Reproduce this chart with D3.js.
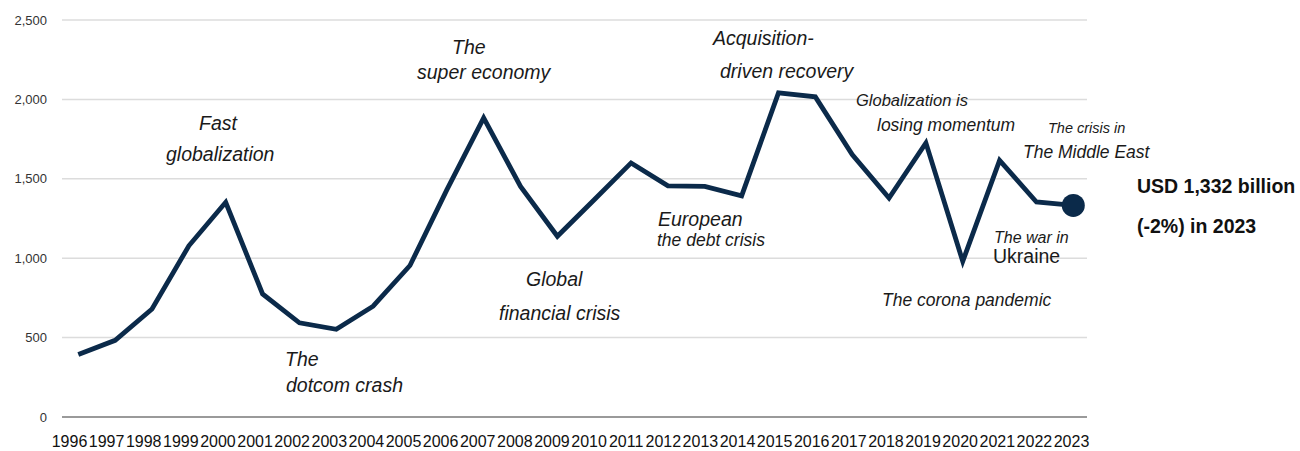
<!DOCTYPE html>
<html>
<head>
<meta charset="utf-8">
<script src="https://cdn.jsdelivr.net/npm/d3@7"></script>
<style>
  html, body { margin: 0; padding: 0; background: #fff; }
  svg { display: block; font-family: "Liberation Sans", Arial, sans-serif; }
</style>
</head>
<body>
<svg id="chart" width="1300" height="451"></svg>
<script>
// Global FDI flows, USD billion
const years = [1996, 1997, 1998, 1999, 2000, 2001, 2002, 2003, 2004, 2005, 2006, 2007, 2008, 2009,
               2010, 2011, 2012, 2013, 2014, 2015, 2016, 2017, 2018, 2019, 2020, 2021, 2022, 2023];
const flows = [393, 483, 680, 1078, 1352, 775, 593, 552, 698, 954, 1430, 1884, 1452, 1138,
               1368, 1600, 1456, 1452, 1393, 2041, 2016, 1652, 1379, 1726, 980, 1616, 1354, 1332];
const yTicks = [0, 500, 1000, 1500, 2000, 2500];

// Period captions
const notes = [
  { text: "Fast", x: 199, y: 130, size: 19.5 },
  { text: "globalization", x: 166, y: 161, size: 19.5 },
  { text: "The", x: 285, y: 366, size: 19.5 },
  { text: "dotcom crash", x: 286, y: 392, size: 19.5 },
  { text: "The", x: 452, y: 54, size: 19.5 },
  { text: "super economy", x: 417, y: 79, size: 19.5 },
  { text: "Acquisition-", x: 713, y: 45, size: 19.5 },
  { text: "driven recovery", x: 720, y: 78, size: 19.5 },
  { text: "Global", x: 526, y: 286, size: 19.5 },
  { text: "financial crisis", x: 499, y: 320, size: 19.5 },
  { text: "European", x: 658, y: 226, size: 19.5 },
  { text: "the debt crisis", x: 657, y: 246, size: 17.5 },
  { text: "Globalization is", x: 856, y: 106, size: 16.5 },
  { text: "losing momentum", x: 877, y: 131, size: 17.5 },
  { text: "The crisis in", x: 1048, y: 133, size: 14.5 },
  { text: "The Middle East", x: 1023, y: 158, size: 17.5 },
  { text: "The war in", x: 994, y: 243, size: 16 },
  { text: "Ukraine", x: 993, y: 263, size: 19.5, upright: true },
  { text: "The corona pandemic", x: 882, y: 306, size: 17.5 }
];
const callout = ["USD 1,332 billion", "(-2%) in 2023"];

const svg = d3.select("#chart");
const navy = "#0b2a4a";

const x = d3.scalePoint().domain(years).range([78.3, 1073.3]);
const xLabel = d3.scalePoint().domain(years).range([69, 1071]);
const y = d3.scaleLinear().domain([0, 2500]).range([417, 20]);

// Horizontal gridlines
svg.append("g").selectAll("line")
  .data(yTicks)
  .join("line")
  .attr("x1", 62).attr("x2", 1087)
  .attr("y1", d => y(d)).attr("y2", d => y(d))
  .attr("stroke", d => d === 0 ? "#9a9a9a" : "#dcdcdc")
  .attr("stroke-width", d => d === 0 ? 2 : 1.5);

// Y axis labels
const yAxis = svg.append("g")
  .attr("transform", "translate(47,0)")
  .call(d3.axisLeft(y).tickValues(yTicks).tickSize(0).tickPadding(0).tickFormat(d3.format(",")));
yAxis.select(".domain").remove();
yAxis.selectAll("text").attr("font-size", 13).attr("fill", "#333").attr("font-family", "Liberation Sans, Arial, sans-serif");

// X axis labels
const xAxis = svg.append("g")
  .attr("transform", "translate(0,436)")
  .call(d3.axisBottom(xLabel).tickSize(0).tickPadding(0));
xAxis.select(".domain").remove();
xAxis.selectAll("text").attr("font-size", 16).attr("fill", "#111").attr("dy", "0.71em")
  .attr("font-family", "Liberation Sans, Arial, sans-serif");

// Series line
const line = d3.line().x((d, i) => x(years[i])).y(d => y(d));
svg.append("path")
  .datum(flows)
  .attr("d", line)
  .attr("fill", "none")
  .attr("stroke", navy)
  .attr("stroke-width", 4.8)
  .attr("stroke-linejoin", "miter");

// Latest value marker
const last = flows.length - 1;
svg.append("circle")
  .attr("cx", x(years[last]))
  .attr("cy", y(flows[last]))
  .attr("r", 11.5)
  .attr("fill", navy);

// Captions
svg.append("g").selectAll("text")
  .data(notes)
  .join("text")
  .attr("x", d => d.x).attr("y", d => d.y)
  .attr("font-size", d => d.size)
  .attr("font-style", d => d.upright ? "normal" : "italic")
  .attr("fill", "#1a1a1a")
  .text(d => d.text);

// Latest value callout
svg.append("g").selectAll("text")
  .data(callout)
  .join("text")
  .attr("x", 1137)
  .attr("y", (d, i) => 193 + i * 40)
  .attr("font-size", 19.5)
  .attr("font-weight", "bold")
  .attr("fill", "#111")
  .text(d => d);
</script>
</body>
</html>
